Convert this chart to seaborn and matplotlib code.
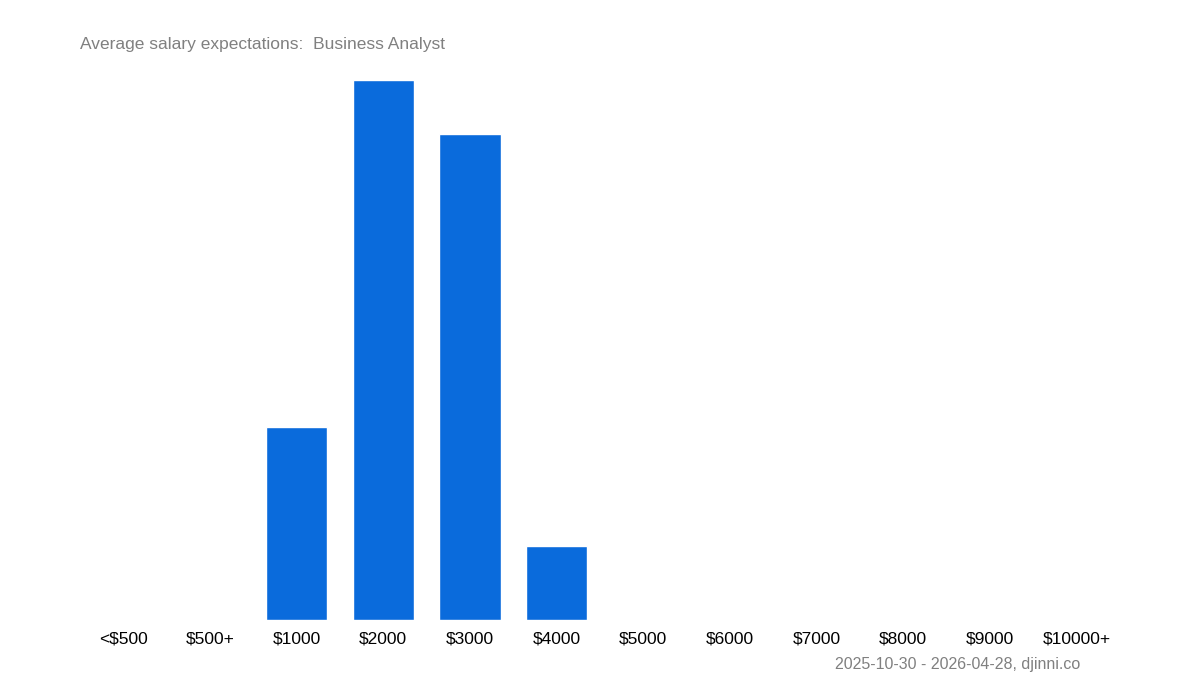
import matplotlib
matplotlib.use("Agg")
import matplotlib.pyplot as plt
import seaborn as sns
import pandas as pd

categories = ["<$500", "$500+", "$1000", "$2000", "$3000", "$4000", "$5000",
              "$6000", "$7000", "$8000", "$9000", "$10000+"]
values = [0, 0, 35.7, 100, 90, 13.7, 0, 0, 0, 0, 0, 0]

sns.set_style("white")
plt.rcParams['font.family'] = ['Liberation Sans', 'DejaVu Sans']

df = pd.DataFrame({"cat": categories, "val": values})
fig = plt.figure(figsize=(12, 7), dpi=100)
ax = fig.add_axes([80/1200, 80/700, 1040/1200, 540/700])
sns.barplot(data=df, x="cat", y="val", color="#0a6bdc", saturation=1, width=0.71, ax=ax)
ax.set_ylim(0, 100)
ax.set_xlim(-0.5, len(categories) - 0.5)
ax.set_xlabel("")
ax.set_ylabel("")
ax.set_yticks([])
for s in ax.spines.values():
    s.set_visible(False)
ax.tick_params(axis="x", length=0, labelsize=12.5, colors="black", pad=8)
fig.text(80/1200, 1 - 44/700, "Average salary expectations:  Business Analyst",
         fontsize=12.5, color="#808080", va="center", ha="left")
fig.text(1080/1200, 1 - 664/700, "2025-10-30 - 2026-04-28, djinni.co",
         fontsize=11.5, color="#808080", va="center", ha="right")
fig.savefig("out.png", dpi=100)
